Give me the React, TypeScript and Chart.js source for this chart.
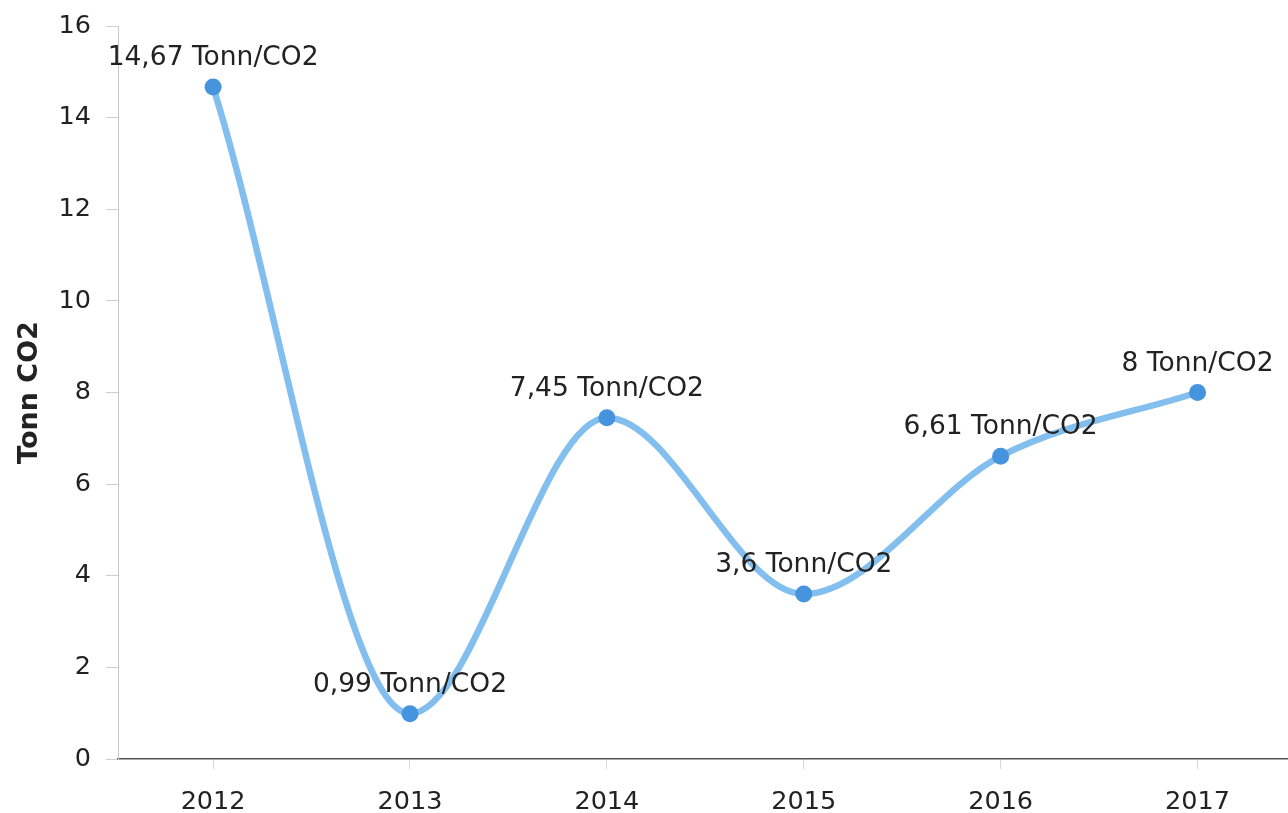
import React, { useEffect, useRef } from "react";
import { Chart, registerables } from "chart.js";

Chart.register(...registerables);

const years = [2012, 2013, 2014, 2015, 2016, 2017];
const emissions = [14.67, 0.99, 7.45, 3.6, 6.61, 8];
const yTicks = [0, 2, 4, 6, 8, 10, 12, 14, 16];
const yAxisTitle = "Tonn CO2";
const unitSuffix = " Tonn/CO2";

const FONT = "'DejaVu Sans', Verdana, sans-serif";
const TEXT = "#222222";

const labelPlugin = {
  id: "pointLabels",
  afterDatasetsDraw(chart: any) {
    const ctx = chart.ctx;
    const meta = chart.getDatasetMeta(0);
    ctx.save();
    ctx.font = `26.5px ${FONT}`;
    ctx.fillStyle = TEXT;
    ctx.textAlign = "center";
    ctx.textBaseline = "alphabetic";
    meta.data.forEach((pt: any, i: number) => {
      const txt = String(emissions[i]).replace(".", ",") + unitSuffix;
      ctx.fillText(txt, pt.x, pt.y - 22);
    });
    ctx.restore();
  },
};

export default function App() {
  const ref = useRef<HTMLCanvasElement>(null);
  useEffect(() => {
    if (!ref.current) return;
    const chart = new Chart(ref.current, {
      type: "line",
      data: {
        datasets: [
          {
            data: years.map((y, i) => ({ x: y, y: emissions[i] })),
            borderColor: "rgb(130,190,238)",
            borderWidth: 6.5,
            pointRadius: 8.5,
            pointBackgroundColor: "rgb(70,148,222)",
            pointBorderColor: "rgb(70,148,222)",
            pointBorderWidth: 0,
            cubicInterpolationMode: "monotone",
            fill: false,
          },
        ],
      },
      options: {
        animation: false,
        responsive: true,
        maintainAspectRatio: false,
        layout: { padding: { top: 26, right: 0, bottom: 0, left: 0 } },
        plugins: { legend: { display: false }, tooltip: { enabled: false } },
        scales: {
          x: {
            type: "linear",
            min: 2011.517,
            max: 2017.462,
            afterBuildTicks: (scale: any) => {
              scale.ticks = years.map((v) => ({ value: v }));
            },
            afterFit: (scale: any) => {
              scale.height = 54;
              scale.paddingLeft = 0;
              scale.paddingRight = 0;
            },
            ticks: {
              callback: (v: any) => String(v),
              color: TEXT,
              font: { family: FONT, size: 25.5 },
              padding: 18,
              autoSkip: false,
              maxRotation: 0,
            },
            grid: { drawOnChartArea: false, drawTicks: true, tickLength: 10, tickColor: "#d8d8d8" },
            border: { color: "#555555", width: 1.5 },
          },
          y: {
            min: 0,
            max: 16,
            afterBuildTicks: (scale: any) => {
              scale.ticks = yTicks.map((v) => ({ value: v }));
            },
            afterFit: (scale: any) => {
              scale.width = 118;
              scale.paddingTop = 0;
              scale.paddingBottom = 0;
            },
            ticks: {
              color: TEXT,
              font: { family: FONT, size: 25.5 },
              padding: 15,
            },
            grid: { drawOnChartArea: false, drawTicks: true, tickLength: 12, tickColor: "#d0d0d0" },
            border: { color: "#c8c8c8", width: 1 },
            title: {
              display: true,
              text: yAxisTitle,
              color: TEXT,
              font: { family: FONT, size: 27, weight: "bold" },
              padding: { top: 14, bottom: 0 },
            },
          },
        },
      },
      plugins: [labelPlugin],
    } as any);
    return () => chart.destroy();
  }, []);
  return (
    <div style={{ position: "fixed", left: 0, top: 0, width: 1297, height: 813, background: "#fff" }}>
      <canvas ref={ref} />
    </div>
  );
}
